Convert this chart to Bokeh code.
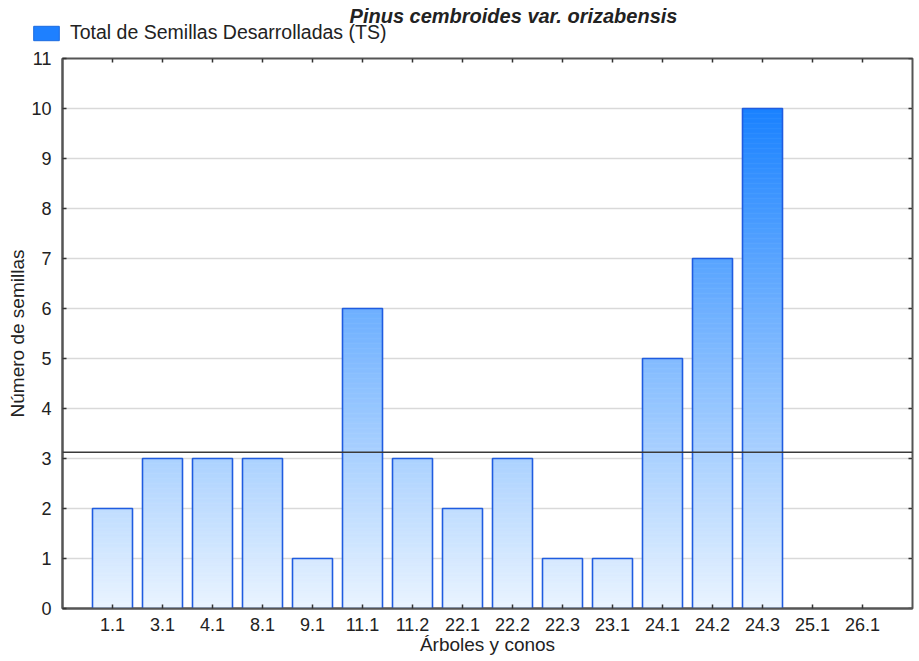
import numpy as np
from bokeh.plotting import figure
from bokeh.layouts import column, row
from bokeh.models import (Range1d, FixedTicker, Span, Label,
                          Legend, LegendItem, ColumnDataSource)
from bokeh.embed import file_html
from bokeh.resources import INLINE

# ---------------- data ----------------
title_text = "Pinus cembroides var. orizabensis"
series_name = "Total de Semillas Desarrolladas (TS)"
categories = ["1.1", "3.1", "4.1", "8.1", "9.1", "11.1", "11.2", "22.1",
              "22.2", "22.3", "23.1", "24.1", "24.2", "24.3", "25.1", "26.1"]
seeds = [2, 3, 3, 3, 1, 6, 3, 2, 3, 1, 1, 5, 7, 10, 0, 0]
mean_seeds = 3.125
y_ticks = list(range(0, 12))
x_label = "Árboles y conos"
y_label = "Número de semillas"

FONT = "Liberation Sans"
TXT = "#222222"
FRAME = "#555555"
W, H_TOP, H_MAIN = 919, 48, 613

positions = list(range(1, len(categories) + 1))
x_max = len(categories) + 1
y_max = y_ticks[-1]

# ---------------- header figure (title + legend) ----------------
head = figure(width=W, height=H_TOP, output_backend="svg", toolbar_location=None,
              x_range=Range1d(0, W), y_range=Range1d(0, H_TOP),
              min_border=0, x_axis_type=None, y_axis_type=None)
head.outline_line_color = None
head.grid.visible = False
head.border_fill_color = "white"
head.background_fill_color = "white"

legend_src = ColumnDataSource(dict(x=[float("nan")], y=[float("nan")]))
dummy = head.rect(x="x", y="y", width=1, height=1, source=legend_src,
                  fill_color="#1e80ff", line_color="#1a6ae0", line_width=1)
legend = Legend(items=[LegendItem(label=series_name, renderers=[dummy])],
                location=(30, 4), padding=0, margin=0, spacing=0,
                glyph_width=32, glyph_height=18, label_standoff=8,
                border_line_color=None, background_fill_alpha=0,
                label_text_font=FONT, label_text_font_size="19.5px",
                label_text_color=TXT)
head.add_layout(legend, "center")

head.add_layout(Label(x=513, y=H_TOP - 15, text=title_text,
                      text_align="center", text_baseline="middle",
                      text_font=FONT, text_font_size="20px",
                      text_font_style="bold italic", text_color=TXT))

# ---------------- main figure ----------------
p = figure(width=W, height=H_MAIN, output_backend="svg", toolbar_location=None,
           x_range=Range1d(0, x_max), y_range=Range1d(0, y_max),
           min_border_left=62, min_border_right=7, min_border_top=10,
           min_border_bottom=53)
p.background_fill_color = "white"
p.border_fill_color = "white"
p.outline_line_color = FRAME
p.outline_line_width = 2
p.xgrid.visible = False
p.ygrid.grid_line_color = "#d9d9d9"
p.ygrid.grid_line_width = 1.5
p.ygrid.ticker = FixedTicker(ticks=y_ticks)

light = np.array([234, 244, 255])
dark = np.array([26, 130, 255])


def shade(y):
    t = min(max(y / 10.0, 0.0), 1.0)
    c = light + (dark - light) * t
    return "#%02x%02x%02x" % tuple(int(round(v)) for v in c)


step = 0.05
L, R, B, T, C = [], [], [], [], []
for xpos, v in zip(positions, seeds):
    n = int(round(v / step))
    for k in range(n):
        y0 = k * step
        y1 = min(v, (k + 1) * step)
        L.append(xpos - 0.4)
        R.append(xpos + 0.4)
        B.append(y0)
        T.append(y1)
        C.append(shade((y0 + y1) / 2))
slices = ColumnDataSource(dict(left=L, right=R, bottom=B, top=T, color=C))
p.quad(left="left", right="right", bottom="bottom", top="top", source=slices,
       fill_color="color", line_color="color", line_width=0.6)

nz = [(x, v) for x, v in zip(positions, seeds) if v > 0]
p.vbar(x=[a for a, _ in nz], top=[b for _, b in nz], width=0.8,
       fill_color=None, line_color="#1f5ce0", line_width=1.6)

p.add_layout(Span(location=mean_seeds, dimension="width",
                  line_color="#3a3a3a", line_width=1.6))

# inward ticks on top and right edges of the frame
tick_len = 0.08
p.segment(x0=positions, y0=[y_max] * len(positions), x1=positions,
          y1=[y_max - tick_len] * len(positions),
          line_color="#333333", line_width=1.5)
p.segment(x0=[x_max] * len(y_ticks), y0=y_ticks,
          x1=[x_max - tick_len] * len(y_ticks), y1=y_ticks,
          line_color="#333333", line_width=1.5)

xax = p.xaxis[0]
xax.ticker = FixedTicker(ticks=positions)
xax.major_label_overrides = {pos: lab for pos, lab in zip(positions, categories)}
xax.axis_label = x_label
yax = p.yaxis[0]
yax.ticker = FixedTicker(ticks=y_ticks)
yax.axis_label = y_label

for ax in (xax, yax):
    ax.axis_line_color = FRAME
    ax.axis_line_width = 2
    ax.major_tick_in = 4
    ax.major_tick_out = 0
    ax.major_tick_line_color = "#333333"
    ax.major_tick_line_width = 1.5
    ax.minor_tick_line_color = None
    ax.major_label_text_font = FONT
    ax.major_label_text_font_size = "18px"
    ax.major_label_text_color = TXT
    ax.axis_label_text_font = FONT
    ax.axis_label_text_font_size = "19px"
    ax.axis_label_text_font_style = "normal"
    ax.axis_label_text_color = TXT
xax.major_label_standoff = 9
xax.axis_label_standoff = 0
yax.major_label_standoff = 11
yax.axis_label_standoff = 0

layout = column(row(head), p, spacing=0)
open("out.html", "w").write(file_html(layout, INLINE))
